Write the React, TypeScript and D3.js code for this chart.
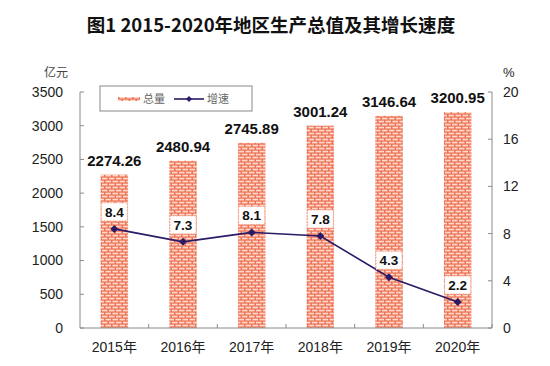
import React from "react";
import * as d3 from "d3";

const years = ["2015年", "2016年", "2017年", "2018年", "2019年", "2020年"];
const totals = [2274.26, 2480.94, 2745.89, 3001.24, 3146.64, 3200.95];
const growth = [8.4, 7.3, 8.1, 7.8, 4.3, 2.2];
const leftTicks = [0, 500, 1000, 1500, 2000, 2500, 3000, 3500];
const rightTicks = [0, 4, 8, 12, 16, 20];

const font = "'Liberation Sans', Arial, 'Noto Sans CJK SC', sans-serif";
const cjk = "'Noto Sans CJK SC', 'Liberation Sans', sans-serif";

export default function App() {
  const width = 550;
  const height = 366;
  const plot = { left: 80, right: 492, top: 92, bottom: 328 };

  // 横軸（年）
  const x = d3
    .scaleBand<string>()
    .domain(years)
    .range([plot.left, plot.right])
    .paddingInner(0.6)
    .paddingOuter(0.3);

  // 左軸（亿元）
  const yLeft = d3.scaleLinear().domain([0, 3500]).range([plot.bottom, plot.top]);
  // 右軸（%）
  const yRight = d3.scaleLinear().domain([0, 20]).range([plot.bottom, plot.top]);

  const step = x.step();
  const line = d3
    .line<number>()
    .x((_, i) => (x(years[i]) as number) + x.bandwidth() / 2)
    .y((d) => yRight(d));

  const axisColor = "#8a8a8a";
  const lineColor = "#2b1a66";

  return (
    <svg
      width={width}
      height={height}
      style={{ position: "absolute", left: 0, top: 0, background: "#fff" }}
    >
      <defs>
        <pattern id="brick" width={7} height={6} patternUnits="userSpaceOnUse">
          <rect width={7} height={6} fill="#ee7456" />
          <rect x={0.5} y={0.7} width={5.5} height={1.7} fill="#fcd9cd" />
          <rect x={-3} y={3.7} width={5.5} height={1.7} fill="#fcd9cd" />
          <rect x={4} y={3.7} width={5.5} height={1.7} fill="#fcd9cd" />
        </pattern>
      </defs>

      {/* タイトル */}
      <text
        x={271}
        y={32}
        textAnchor="middle"
        fontFamily={cjk}
        fontWeight="bold"
        fontSize={18.5}
        fill="#111"
      >
        图1 2015-2020年地区生产总值及其增长速度
      </text>

      {/* 単位 */}
      <text x={56} y={77} textAnchor="middle" fontFamily={cjk} fontSize={12} fill="#444">
        亿元
      </text>
      <text x={503} y={77} fontFamily={font} fontSize={13} fill="#222">
        %
      </text>

      {/* 棒 */}
      {totals.map((v, i) => (
        <rect
          key={years[i]}
          x={x(years[i])}
          y={yLeft(v)}
          width={x.bandwidth()}
          height={plot.bottom - yLeft(v)}
          fill="url(#brick)"
        />
      ))}

      {/* 棒の値 */}
      {totals.map((v, i) => (
        <text
          key={"t" + i}
          x={(x(years[i]) as number) + x.bandwidth() / 2}
          y={yLeft(v) - 9}
          textAnchor="middle"
          fontFamily={font}
          fontWeight="bold"
          fontSize={15}
          fill="#111"
        >
          {v.toFixed(2)}
        </text>
      ))}

      {/* 左軸 */}
      <line x1={plot.left} x2={plot.left} y1={plot.top} y2={plot.bottom} stroke={axisColor} />
      {leftTicks.map((t) => (
        <g key={t} transform={`translate(${plot.left},${yLeft(t)})`}>
          <line x1={0} x2={4} stroke={axisColor} />
          <text x={-17} dy="0.35em" textAnchor="end" fontFamily={font} fontSize={14} fill="#222">
            {t}
          </text>
        </g>
      ))}

      {/* 右軸 */}
      <line x1={plot.right} x2={plot.right} y1={plot.top} y2={plot.bottom} stroke={axisColor} />
      {rightTicks.map((t) => (
        <g key={t} transform={`translate(${plot.right},${yRight(t)})`}>
          <line x1={0} x2={-4} stroke={axisColor} />
          <text x={11} dy="0.35em" fontFamily={font} fontSize={14} fill="#222">
            {t}
          </text>
        </g>
      ))}

      {/* 横軸 */}
      <line x1={plot.left} x2={plot.right} y1={plot.bottom} y2={plot.bottom} stroke={axisColor} />
      {years.map((yr, i) => (
        <g key={yr}>
          <line
            x1={plot.left + step * (i + 1)}
            x2={plot.left + step * (i + 1)}
            y1={plot.bottom}
            y2={plot.bottom - 4}
            stroke={axisColor}
          />
          <text
            x={(x(yr) as number) + x.bandwidth() / 2}
            y={plot.bottom + 24}
            textAnchor="middle"
            fontFamily={font}
            fontSize={14}
            fill="#222"
          >
            {yr}
          </text>
        </g>
      ))}

      {/* 増速ライン */}
      <path d={line(growth) ?? ""} fill="none" stroke={lineColor} strokeWidth={1.6} />
      {growth.map((g, i) => {
        const cx = (x(years[i]) as number) + x.bandwidth() / 2;
        const cy = yRight(g);
        return (
          <g key={"g" + i}>
            <path
              d={`M${cx},${cy - 4}L${cx + 4},${cy}L${cx},${cy + 4}L${cx - 4},${cy}Z`}
              fill={lineColor}
            />
            <rect
              x={cx - 13}
              y={cy - 26}
              width={26}
              height={18}
              fill="#fff"
              stroke="#f3a58f"
              strokeDasharray="1.5,1.5"
              strokeWidth={1}
            />
            <text
              x={cx}
              y={cy - 12}
              textAnchor="middle"
              fontFamily={font}
              fontWeight="bold"
              fontSize={13.5}
              fill="#111"
            >
              {g.toFixed(1)}
            </text>
          </g>
        );
      })}

      {/* 凡例 */}
      <g>
        <rect x={100} y={86} width={152} height={25} fill="#fff" stroke="#888" />
        <rect x={118} y={97} width={22} height={4} fill="url(#brick)" />
        <text x={143} y={103} fontFamily={cjk} fontSize={11} fill="#666">
          总量
        </text>
        <line x1={174} x2={204} y1={99} y2={99} stroke={lineColor} strokeWidth={1.6} />
        <path d="M189,96L192,99L189,102L186,99Z" fill={lineColor} />
        <text x={207} y={103} fontFamily={cjk} fontSize={11} fill="#666">
          增速
        </text>
      </g>
    </svg>
  );
}
